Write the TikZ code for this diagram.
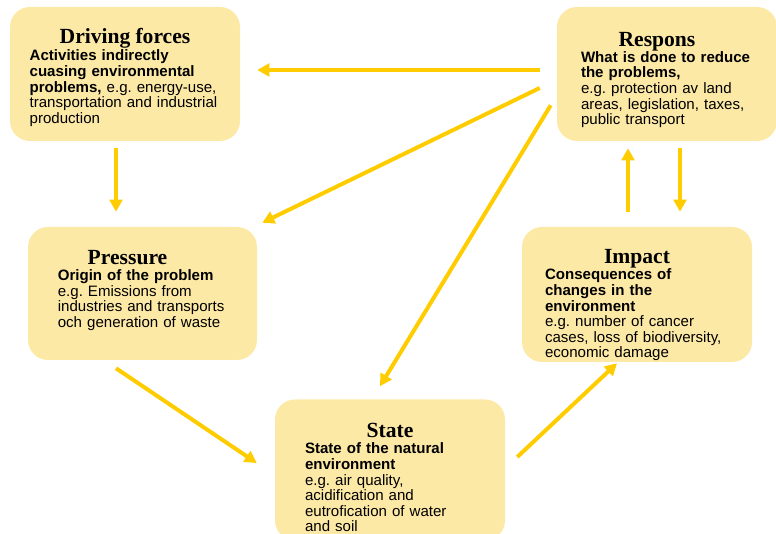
\documentclass[tikz,border=0pt]{standalone}
\usepackage{fontspec}
\setmainfont{Liberation Sans}
\newfontfamily\headfont{Liberation Serif}
\usepackage{xcolor}
\usetikzlibrary{arrows.meta}
\usetikzlibrary{calc}
\definecolor{boxfill}{RGB}{253,233,166}
\definecolor{arrowgold}{RGB}{255,204,0}
% title line of a box: [room above], name, room on its right
\newcommand{\boxhead}[3][0pt]{{\centering\headfont\bfseries\fontsize{16.2}{19}\selectfont\rule{0pt}{\dimexpr 12pt+#1\relax}#2\hspace*{#3}\par}\vspace{0.3pt}}
\tikzset{
    box/.style={
        rectangle,
        rounded corners=15pt,
        fill=boxfill,
        inner sep=0pt,
        align=left,
        minimum width=172.5pt,
        minimum height=100.5pt,
        font=\fontsize{11.3}{11.7}\selectfont
    },
    flow/.style={
        draw=arrowgold,
        line width=3pt,
        -{Triangle[length=9pt,width=9.5pt]}
    }
}

\begin{document}
\begin{tikzpicture}[x=0.75pt, y=-0.75pt]
    \useasboundingbox (0,0) rectangle (776,534);
    % Boxes
    \node[box, text width=143pt] (drive) at (125,74) {\boxhead[4.5pt]{Driving forces}{0pt}%
        \textbf{Activities indirectly\\ cuasing environmental\\ problems,} e.g.\ energy-use,\\ transportation and industrial\\ production};
    \node[box, text width=129pt, minimum width=165pt] (resp) at (667,74) {\boxhead[7.5pt]{Respons}{15pt}%
        \textbf{What is done to reduce\\ the problems,}\\ e.g.\ protection av land\\ areas, legislation, taxes,\\ public transport};
    \node[box, text width=127pt, minimum width=171.75pt, minimum height=99.75pt] (press) at (142.5,293.5) {\boxhead{Pressure}{22.5pt}%
        \textbf{Origin of the problem}\\ e.g.\ Emissions from\\ industries and transports\\ och generation of waste\vspace*{6pt}};
    \node[box, text width=138pt, minimum height=101.25pt] (impact) at (637,294.5) {\boxhead[15pt]{Impact}{0pt}%
        \textbf{Consequences of\\ changes in the\\ environment}\\ e.g.\ number of cancer\\ cases, loss of biodiversity,\\ economic damage};
    \node[box, text width=127.5pt, minimum height=105.75pt] (state) at (390,470) {\boxhead[10.5pt]{State}{0pt}%
        \textbf{State of the natural\\ environment}\\ e.g.\ air quality,\\ acidification and\\ eutrofication of water\\ and soil};

    % Arrows
    \draw[flow] ($(resp.west)+(-17,-4)$) -- ($(drive.east)+(17,-4)$);
    \draw[flow] ($(drive.south)+(-9,7)$) -- ($(press.north)+(-26.5,-15)$);
    \draw[flow] ($(resp.west)+(-17,14)$) -- ($(press.north east)+(5,-4)$);
    \draw[flow] ($(resp.south west)+(-6,-36)$) -- ($(state.north)+(-10,-13)$);
    \draw[flow] ($(press.south)+(-26.5,8)$) -- ($(state.west)+(-18,-7)$);
    \draw[flow] ($(state.east)+(12,-13)$) -- ($(impact.south)+(-20,1)$);
    \draw[flow] ($(impact.north)+(-9,-15)$) -- ($(resp.south)+(-39,7)$);
    \draw[flow] ($(resp.south)+(13,7)$) -- ($(impact.north)+(43,-15)$);
\end{tikzpicture}
\end{document}
